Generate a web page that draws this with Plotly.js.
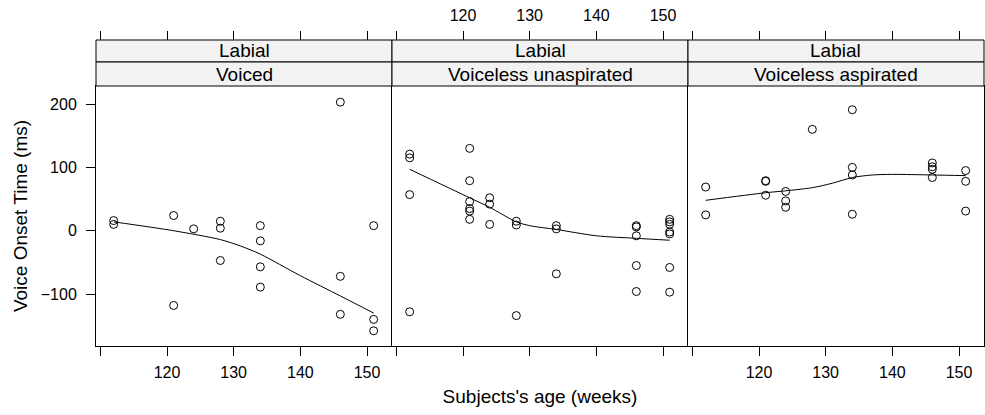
<!DOCTYPE html>
<html>
<head>
<meta charset="utf-8">
<script src="https://cdn.plot.ly/plotly-3.0.1.min.js"></script>
<style>html,body{margin:0;padding:0;background:#fff;}#chart{width:985px;height:415px;}</style>
</head>
<body>
<div id="chart"></div>
<script>
// ---- data ----
const panelTop = ["Labial", "Labial", "Labial"];
const panelNames = ["Voiced", "Voiceless unaspirated", "Voiceless aspirated"];
const tickValues = [110, 120, 130, 140, 150];
const tickLabels = ["", "120", "130", "140", "150"];
const yTickValues = [-100, 0, 100, 200];

const voicedAge = [112,112,121,121,124,128,128,128,134,134,134,134,146,146,146,151,151,151];
const voicedVot = [16,10,24,-118,3,15,4,-47,8,-16,-57,-89,203,-72,-132,8,-140,-158];
const voicedFitAge = [112,121,128,131,134,140,146,151];
const voicedFitVot = [14,0,-14,-24,-37,-71,-103,-130];

const unaspAge = [112,112,112,112,121,121,121,121,121,121,124,124,124,128,128,128,134,134,134,146,146,146,146,146,151,151,151,151,151,151,151];
const unaspVot = [121,115,57,-128,130,79,46,35,31,18,52,42,10,15,9,-134,8,3,-68,8,6,-8,-55,-96,18,14,10,-2,-5,-58,-97];
const unaspFitAge = [112,121,124,128,130,134,140,146,151];
const unaspFitVot = [97,52,37,14,8,2,-8,-12,-15];

const aspAge = [112,112,121,121,121,124,124,124,128,134,134,134,134,146,146,146,146,151,151,151];
const aspVot = [69,25,79,78,56,62,47,37,160,191,100,88,26,107,101,97,84,95,78,31];
const aspFitAge = [112,121,124,128,131,134,137,140,146,151];
const aspFitVot = [48,60,63,68,75,84,88,89,88,87];

// ---- build ----
const FONT = "Liberation Sans, Arial, Helvetica, sans-serif";
const TICK = 16, BIG = 19;
const series = [
  [voicedAge, voicedVot, voicedFitAge, voicedFitVot],
  [unaspAge, unaspVot, unaspFitAge, unaspFitVot],
  [aspAge, aspVot, aspFitAge, aspFitVot]
];
const traces = [];
series.forEach((s, i) => {
  const xa = i === 0 ? 'x' : 'x' + (i + 1);
  const ya = i === 0 ? 'y' : 'y' + (i + 1);
  traces.push({type:'scatter', mode:'markers', x:s[0], y:s[1], xaxis:xa, yaxis:ya,
    marker:{symbol:'circle-open', size:8, color:'black', line:{width:1, color:'black'}},
    showlegend:false, hoverinfo:'skip', cliponaxis:false});
  traces.push({type:'scatter', mode:'lines', x:s[2], y:s[3], xaxis:xa, yaxis:ya,
    line:{color:'black', width:1, shape:'spline', smoothing:0.8},
    showlegend:false, hoverinfo:'skip'});
  // empty trace to carry the top axis
  traces.push({type:'scatter', mode:'markers', x:[], y:[], xaxis:'x' + (i + 4), yaxis:ya,
    showlegend:false, hoverinfo:'skip'});
});

const XR = [109.35, 153.75];
const YR = [-182, 228.5];
const yTop = 260 / 306;
const yMid = (346 - 62) / 306;
const doms = [[0, 1/3], [1/3, 2/3], [2/3, 1]];

const layout = {
  width: 985, height: 415,
  margin: {l: 96, r: 1, t: 40, b: 69, pad: 0},
  paper_bgcolor: 'white', plot_bgcolor: 'white',
  font: {family: FONT, size: TICK, color: 'black'},
  showlegend: false,
  shapes: [], annotations: []
};

for (let i = 0; i < 3; i++) {
  const n = i === 0 ? '' : String(i + 1);
  const bottomLabels = i !== 1;
  layout['xaxis' + n] = {
    domain: doms[i], anchor: 'y' + n, range: XR, tickmode: 'array',
    tickvals: tickValues, ticktext: tickLabels, showticklabels: bottomLabels,
    ticks: 'outside', ticklen: 9, tickwidth: 1, tickcolor: 'black',
    showline: true, linecolor: 'black', linewidth: 1, mirror: true,
    showgrid: false, zeroline: false, ticklabelstandoff: 3,
    tickfont: {family: FONT, size: TICK, color: 'black'}
  };
  layout['yaxis' + n] = {
    domain: [0, yTop], anchor: 'x' + n, range: YR, tickmode: 'array',
    tickvals: yTickValues, showticklabels: i === 0,
    ticks: i === 0 ? 'outside' : '', ticklen: 9, tickwidth: 1, tickcolor: 'black',
    showline: true, linecolor: 'black', linewidth: 1, mirror: i === 2,
    showgrid: false, zeroline: false, ticklabelstandoff: 6,
    tickfont: {family: FONT, size: TICK, color: 'black'}
  };
  layout['xaxis' + (i + 4)] = {
    domain: doms[i], overlaying: 'x' + n, anchor: 'free', position: 1, side: 'top',
    range: XR, tickmode: 'array', tickvals: tickValues, ticktext: tickLabels,
    showticklabels: i === 1, ticks: 'outside', ticklen: 9, tickwidth: 1, tickcolor: 'black',
    showline: false, showgrid: false, zeroline: false, ticklabelstandoff: 4,
    tickfont: {family: FONT, size: TICK, color: 'black'}
  };
  // strips
  layout.shapes.push({type:'rect', xref:'paper', yref:'paper', x0:doms[i][0], x1:doms[i][1],
    y0:yMid, y1:1, fillcolor:'#f2f2f2', line:{color:'black', width:1}, layer:'above'});
  layout.shapes.push({type:'rect', xref:'paper', yref:'paper', x0:doms[i][0], x1:doms[i][1],
    y0:yTop, y1:yMid, fillcolor:'#f2f2f2', line:{color:'black', width:1}, layer:'above'});
  layout.annotations.push({xref:'paper', yref:'paper', x:(doms[i][0]+doms[i][1])/2,
    y:(yMid+1)/2, text:panelTop[i], showarrow:false, xanchor:'center', yanchor:'middle',
    font:{family:FONT, size:BIG, color:'black'}});
  layout.annotations.push({xref:'paper', yref:'paper', x:(doms[i][0]+doms[i][1])/2,
    y:(yTop+yMid)/2, text:panelNames[i], showarrow:false, xanchor:'center', yanchor:'middle',
    font:{family:FONT, size:BIG, color:'black'}});
}
layout.yaxis.title = {text: 'Voice Onset Time (ms)', font: {family: FONT, size: BIG, color: 'black'}, standoff: 8};
layout.xaxis2.title = {text: "Subjects's age (weeks)", font: {family: FONT, size: BIG, color: 'black'}, standoff: 34};

Plotly.newPlot('chart', traces, layout, {staticPlot: true, displayModeBar: false});
</script>
</body>
</html>
